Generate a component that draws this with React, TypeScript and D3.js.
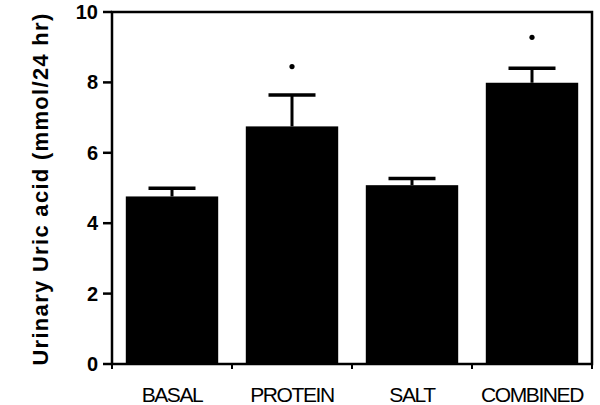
import React from 'react';
import * as d3 from 'd3';

// bar values and SEM
const groups = ['BASAL', 'PROTEIN', 'SALT', 'COMBINED'];
const means = [4.76, 6.75, 5.08, 7.99];
const errTops = [4.99, 7.64, 5.27, 8.4];
const starred = [false, true, false, true];
const starY = [0, 8.45, 0, 9.28];
const yTicks = [0, 2, 4, 6, 8, 10];

const W = 600;
const H = 405;
const left = 112;
const right = 592;
const top = 12;
const bottom = 364;

const App = () => {
  const x = d3.scaleBand().domain(groups).range([left, right]).paddingInner(0.23).paddingOuter(0.115);
  const y = d3.scaleLinear().domain([0, 10]).range([bottom, top]);
  const capW = 47;
  const font = 'Liberation Sans, Arial, sans-serif';

  return (
    <svg width={W} height={H} style={{ position: 'absolute', left: 0, top: 0, background: '#fff' }}>
      {/* frame */}
      <rect x={left} y={top} width={right - left} height={bottom - top} fill='none' stroke='#000' strokeWidth={2.5} />

      {groups.map((g, i) => {
        const cx = (x(g) as number) + x.bandwidth() / 2;
        return (
          <g key={g}>
            <rect x={x(g)} y={y(means[i])} width={x.bandwidth()} height={y(0) - y(means[i])} fill='#000' />
            <line x1={cx} x2={cx} y1={y(means[i])} y2={y(errTops[i])} stroke='#000' strokeWidth={3} />
            <line x1={cx - capW / 2} x2={cx + capW / 2} y1={y(errTops[i])} y2={y(errTops[i])} stroke='#000' strokeWidth={3.5} />
            {starred[i] && <circle cx={cx} cy={y(starY[i])} r={2.6} fill='#000' />}
            <text x={cx} y={402} textAnchor='middle' fontFamily={font} fontSize={21} letterSpacing={-1.4} fill='#000'>{g}</text>
          </g>
        );
      })}

      {/* y ticks */}
      {yTicks.map(t => (
        <g key={t}>
          <line x1={103} x2={left} y1={y(t)} y2={y(t)} stroke='#000' strokeWidth={2.5} />
          <text x={98} y={y(t) + 7} textAnchor='end' fontFamily={font} fontWeight='bold' fontSize={20} fill='#000'>{t}</text>
        </g>
      ))}

      {/* x ticks between bars */}
      {groups.map((g, i) => {
        const xt = left + (i * (right - left)) / groups.length;
        return <line key={'xt' + g} x1={xt} x2={xt} y1={bottom} y2={bottom + 5} stroke='#000' strokeWidth={2} />;
      })}
      <line x1={right} x2={right} y1={bottom} y2={bottom + 5} stroke='#000' strokeWidth={2} />

      <text
        transform={`translate(48, 189) rotate(-90)`}
        textAnchor='middle'
        fontFamily={font}
        fontWeight='bold'
        fontSize={22}
        letterSpacing={1.3}
        fill='#000'
      >
        Urinary Uric acid (mmol/24 hr)
      </text>
    </svg>
  );
};

export default App;
